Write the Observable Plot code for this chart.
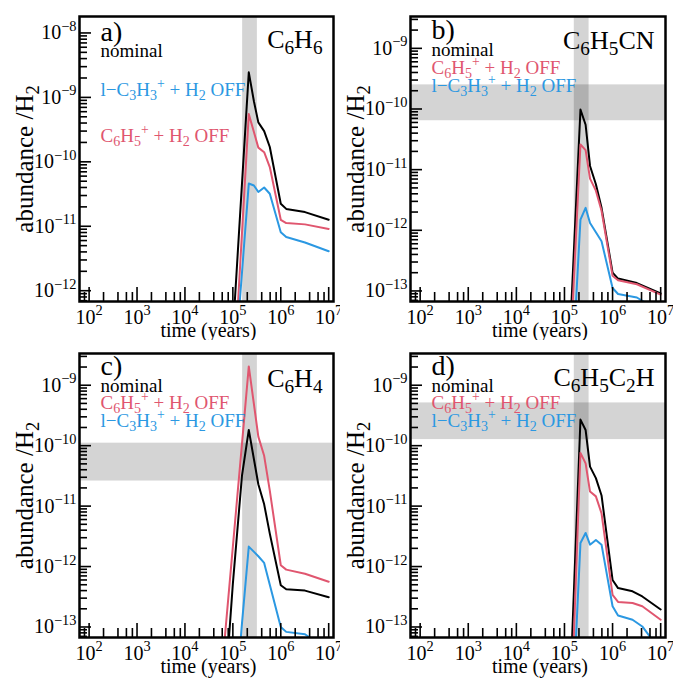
<!DOCTYPE html>
<html><head><meta charset="utf-8">
<script src="https://cdn.jsdelivr.net/npm/d3@7"></script>
<script src="https://cdn.jsdelivr.net/npm/@observablehq/plot@0.6"></script>
<style>
body{margin:0;background:#fff;}
#wrap{position:relative;width:673px;height:680px;overflow:hidden;background:#fff;}
#wrap svg{position:absolute;background:#fff;}
#wrap svg, #wrap svg text, #wrap svg tspan{font-family:"Liberation Serif", "Times New Roman", serif !important;}
</style></head><body><div id="wrap"></div>
<script>
// ---------- data ----------
const timeA = [1e5, 2.15e5, 2.75e5, 3.4e5, 4.5e5, 5.9e5, 1e6, 1.3e6, 3.2e6, 1e7];
const nominalA = [2.2e-13, 2.45e-9, 8.7e-10, 4.1e-10, 3.0e-10, 1.7e-10, 2.24e-11, 1.86e-11, 1.66e-11, 1.26e-11];
const c6h5OffA = [2.6e-14, 5.5e-10, 2.9e-10, 1.66e-10, 1.41e-10, 8.3e-11, 1.26e-11, 1.12e-11, 1.07e-11, 9.1e-12];
const c3h3OffA = [2.7e-14, 4.6e-11, 4.3e-11, 3.4e-11, 4.0e-11, 3.2e-11, 8.1e-12, 6.8e-12, 5.6e-12, 4.1e-12];

const timeB = [1e5, 2.15e5, 2.75e5, 3.4e5, 4.5e5, 5.9e5, 1e6, 1.3e6, 3.2e6, 1e7];
const nominalB = [2.1e-16, 9.8e-11, 5.5e-11, 1.15e-11, 5.75e-12, 2.35e-12, 2.0e-13, 1.6e-13, 1.35e-13, 9.1e-14];
const c6h5OffB = [1e-16, 2.6e-11, 2.1e-11, 7.1e-12, 4.5e-12, 2.1e-12, 1.78e-13, 1.5e-13, 1.29e-13, 8.7e-14];
const c3h3OffB = [2e-17, 1.5e-12, 2.35e-12, 1.32e-12, 9.3e-13, 6.6e-13, 1.12e-13, 8.9e-14, 7.8e-14, 4.5e-14];

const timeC = [5e4, 1e5, 1.55e5, 2.15e5, 3.4e5, 4.5e5, 5.9e5, 1e6, 1.3e6, 3.2e6, 1e7];
const nominalC = [2.5e-16, 5.2e-13, 3.2e-11, 1.82e-10, 2.3e-11, 1.07e-11, 3.5e-12, 4.9e-13, 4.2e-13, 4.0e-13, 3.1e-13];
const c6h5OffC = [4.3e-15, 2.14e-12, 1.07e-10, 2.05e-9, 1.41e-10, 6.8e-11, 1.8e-11, 1.05e-12, 8.9e-13, 7.6e-13, 5.6e-13];
const c3h3OffC = [1e-18, 1.6e-15, 1.15e-13, 2.14e-12, 1.48e-12, 1.15e-12, 5e-13, 1.0e-13, 8.3e-14, 7.6e-14, 4e-14];

const timeD = [1e5, 2.15e5, 2.75e5, 3.4e5, 4.5e5, 5.9e5, 1e6, 1.3e6, 2.6e6, 4.15e6, 1e7];
const nominalD = [3.2e-17, 2.7e-10, 1.82e-10, 4.5e-11, 2.9e-11, 1.5e-11, 6.0e-13, 4.4e-13, 3.9e-13, 3.2e-13, 1.95e-13];
const c6h5OffD = [4e-18, 7.6e-11, 5.1e-11, 1.74e-11, 1.45e-11, 7.6e-12, 3.4e-13, 2.6e-13, 2.5e-13, 2.2e-13, 1.32e-13];
const c3h3OffD = [6e-18, 2.45e-12, 3.6e-12, 2.3e-12, 2.75e-12, 2.3e-12, 2.2e-13, 1.55e-13, 1.32e-13, 1.02e-13, 4e-14];

// shaded ranges
const peakTimeBand = [1.6e5, 3.25e5];
const obsBandB = [6.4e-11, 2.5e-10];
const obsBandC = [2.6e-11, 1.1e-10];
const obsBandD = [1.26e-10, 5.1e-10];

// axes
const xDomain = [63, 1.26e7];
const xMajor = [1e2, 1e3, 1e4, 1e5, 1e6, 1e7];
const xMinorMult = [2, 4, 6, 8];
const yDomainA = [6.8e-13, 1.8e-8];
const yDomainBCD = [6.7e-14, 3.35e-9];
const yMajorA = [1e-12, 1e-11, 1e-10, 1e-9, 1e-8];
const yMajorBCD = [1e-13, 1e-12, 1e-11, 1e-10, 1e-9];
const yMinorMult = [2, 3, 4, 5, 6, 7, 8, 9];

// text
const panelLetters = ["a)", "b)", "c)", "d)"];
const molecules = ["C_{6}H_{6}", "C_{6}H_{5}CN", "C_{6}H_{4}", "C_{6}H_{5}C_{2}H"];
const seriesNames = ["nominal", "C_{6}H_{5}^{+} + H_{2} OFF", "l−C_{3}H_{3}^{+} + H_{2} OFF"];
const seriesColors = ["#000000", "#e0566f", "#2b98e2"];
const xTitle = "time (years)";
const yTitle = "abundance /H_{2}";

// ---------- helpers ----------
const FONT = "Liberation Serif";
function supLabel(v) {
  const e = Math.round(Math.log10(v));
  return "10^{" + (e < 0 ? "−" + (-e) : String(e)) + "}";
}
function minors(majors, mult, domain) {
  const out = [];
  for (const m of majors) for (const k of mult) out.push(m * k);
  for (const k of mult) out.push(majors[0] / 10 * k);
  return out.filter(v => v > domain[0] && v < domain[1]);
}
function rich(svg) {
  d3.select(svg).selectAll("text").each(function () {
    const t = this, s = t.textContent;
    if (!/[_^]\{/.test(s)) return;
    const fsEl = t.closest("[font-size]");
    const fs = parseFloat(t.getAttribute("font-size") || (fsEl ? fsEl.getAttribute("font-size") : 20));
    const re = /([_^])\{([^}]*)\}/g;
    const parts = []; let last = 0, m;
    while ((m = re.exec(s))) {
      if (m.index > last) parts.push({t: s.slice(last, m.index)});
      parts.push({t: m[2], k: m[1]});
      last = re.lastIndex;
    }
    if (last < s.length) parts.push({t: s.slice(last)});
    t.textContent = "";
    let shift = 0;
    for (const p of parts) {
      const ts = document.createElementNS("http://www.w3.org/2000/svg", "tspan");
      let target = 0, size = null;
      if (p.k === "_") { target = 0.26 * fs; size = 0.74 * fs; }
      else if (p.k === "^") { target = -0.42 * fs; size = 0.72 * fs; }
      ts.setAttribute("dy", target - shift);
      shift = target;
      if (size) ts.setAttribute("font-size", size);
      ts.textContent = p.t;
      t.appendChild(ts);
    }
  });
}

function panel(cfg) {
  const {times, values, yDomain, yMajor, hband, letter, molecule, legendOrder, legendDy,
         letterDy, titleDy, left, top, width, height, mL, mR, mT, mB} = cfg;
  const W = width - mL - mR, H = height - mT - mB;
  const data = [];
  values.forEach((vals, si) => vals.forEach((v, i) => data.push({t: times[i], v, s: si})));
  const xMinor = minors(xMajor, xMinorMult, xDomain);
  const yMinor = minors(yMajor, yMinorMult, yDomain);
  const txt = {fontFamily: FONT};
  const marks = [
    Plot.rect([peakTimeBand], {x1: d => d[0], x2: d => d[1], fill: "black", fillOpacity: 0.17}),
  ];
  if (hband) marks.push(Plot.rect([hband], {y1: d => d[0], y2: d => d[1], fill: "black", fillOpacity: 0.17}));
  [0, 1, 2].forEach(si => {
    marks.push(Plot.line(data.filter(d => d.s === si), {x: "t", y: "v", stroke: seriesColors[si], strokeWidth: 2, clip: true}));
  });
  marks.push(
    Plot.tickX(xMinor, {x: d => d, insetTop: H - 9, stroke: "black", strokeWidth: 1.6}),
    Plot.tickX(xMajor, {x: d => d, insetTop: H - 14, stroke: "black", strokeWidth: 1.6}),
    Plot.tickY(yMinor, {y: d => d, insetRight: W - 8, stroke: "black", strokeWidth: 1.6}),
    Plot.tickY(yMajor, {y: d => d, insetRight: W - 12, stroke: "black", strokeWidth: 1.6}),
    Plot.frame({stroke: "black", strokeWidth: 2.5}),
    Plot.text(xMajor, {...txt, x: d => d, text: supLabel, frameAnchor: "bottom", dy: 22, lineAnchor: "bottom", textAnchor: "middle", fontSize: 20, fill: "black"}),
    Plot.text(yMajor, {...txt, y: d => d, text: supLabel, frameAnchor: "left", dx: -3, lineAnchor: "middle", textAnchor: "end", fontSize: 20, fill: "black"}),
    Plot.text([xTitle], {...txt, text: d => d, frameAnchor: "bottom", dy: 35, dx: 2, lineAnchor: "bottom", textAnchor: "middle", fontSize: 20, fill: "black"}),
    Plot.text([yTitle], {...txt, text: d => d, frameAnchor: "left", dx: -55, rotate: -90, lineAnchor: "middle", textAnchor: "middle", fontSize: 25, fill: "black"}),
    Plot.text([letter], {...txt, text: d => d, frameAnchor: "top-left", dx: 21, dy: letterDy, lineAnchor: "bottom", textAnchor: "start", fontSize: 28, fill: "black"}),
    Plot.text([molecule], {...txt, text: d => d, frameAnchor: "top-right", dx: -11, dy: titleDy, lineAnchor: "bottom", textAnchor: "end", fontSize: 26, fill: "black"})
  );
  legendOrder.forEach((si, k) => {
    marks.push(Plot.text([seriesNames[si]], {...txt, text: d => d, frameAnchor: "top-left", dx: 21, dy: legendDy[k], lineAnchor: "bottom", textAnchor: "start", fontSize: 19, fill: seriesColors[si]}));
  });
  const svg = Plot.plot({
    width, height, marginLeft: mL, marginRight: mR, marginTop: mT, marginBottom: mB,
    style: {fontFamily: FONT, background: "white", overflow: "hidden"},
    x: {type: "log", domain: xDomain, axis: null},
    y: {type: "log", domain: yDomain, axis: null},
    marks
  });
  rich(svg);
  svg.style.left = left + "px";
  svg.style.top = top + "px";
  document.getElementById("wrap").appendChild(svg);
}

panel({times: timeA, values: [nominalA, c6h5OffA, c3h3OffA], yDomain: yDomainA, yMajor: yMajorA, hband: null,
  letter: panelLetters[0], molecule: molecules[0], legendOrder: [0, 2, 1], legendDy: [40, 79, 125], letterDy: 24, titleDy: 31,
  left: 0, top: 0, width: 340, height: 340, mL: 79, mR: 7, mT: 16, mB: 39});
panel({times: timeB, values: [nominalB, c6h5OffB, c3h3OffB], yDomain: yDomainBCD, yMajor: yMajorBCD, hband: obsBandB,
  letter: panelLetters[1], molecule: molecules[1], legendOrder: [0, 1, 2], legendDy: [39, 57, 75], letterDy: 22, titleDy: 32,
  left: 340, top: 0, width: 333, height: 340, mL: 70, mR: 8, mT: 16, mB: 39});
panel({times: timeC, values: [nominalC, c6h5OffC, c3h3OffC], yDomain: yDomainBCD, yMajor: yMajorBCD, hband: obsBandC,
  letter: panelLetters[2], molecule: molecules[2], legendOrder: [0, 1, 2], legendDy: [38, 55, 73], letterDy: 21, titleDy: 33,
  left: 0, top: 340, width: 340, height: 340, mL: 79, mR: 7, mT: 13, mB: 43});
panel({times: timeD, values: [nominalD, c6h5OffD, c3h3OffD], yDomain: yDomainBCD, yMajor: yMajorBCD, hband: obsBandD,
  letter: panelLetters[3], molecule: molecules[3], legendOrder: [0, 1, 2], legendDy: [38, 55, 73], letterDy: 21, titleDy: 32,
  left: 340, top: 340, width: 333, height: 340, mL: 70, mR: 8, mT: 13, mB: 43});
</script>
</body></html>
